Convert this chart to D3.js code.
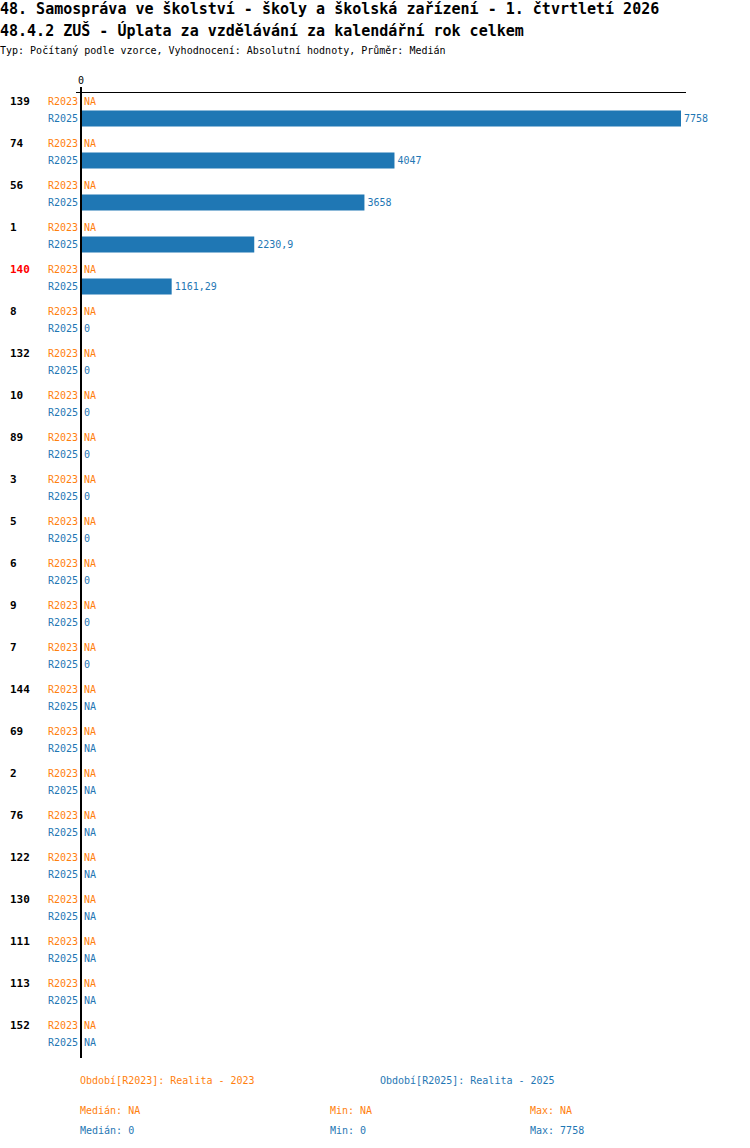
<!DOCTYPE html>
<html><head><meta charset="utf-8">
<script src="https://cdn.jsdelivr.net/npm/d3@7"></script>
<style>
body{margin:0;background:#fff;}
text{font-family:"DejaVu Sans Mono","Liberation Mono",monospace;}
</style></head>
<body>
<script>
const titleLines = ["48. Samospráva ve školství - školy a školská zařízení - 1. čtvrtletí 2026",
                    "48.4.2 ZUŠ - Úplata za vzdělávání za kalendářní rok celkem"];
const subtitle = "Typ: Počítaný podle vzorce, Vyhodnocení: Absolutní hodnoty, Průměr: Medián";
const categories = ["139","74","56","1","140","8","132","10","89","3","5","6","9","7","144","69","2","76","122","130","111","113","152"];
const highlighted = ["140"];
const series = ["R2023","R2025"];
const valuesR2023 = [null,null,null,null,null,null,null,null,null,null,null,null,null,null,null,null,null,null,null,null,null,null,null];
const valuesR2025 = [7758,4047,3658,2230.9,1161.29,0,0,0,0,0,0,0,0,0,null,null,null,null,null,null,null,null,null];
const xTicks = [0];
const legendLabels = ["Období[R2023]: Realita - 2023","Období[R2025]: Realita - 2025"];
const statsR2023 = ["Medián: NA","Min: NA","Max: NA"];
const statsR2025 = ["Medián: 0","Min: 0","Max: 7758"];
const colors = {R2023:"#ff7f0e", R2025:"#1f77b4"};

const W=750,H=1148;
const svg=d3.select("body").append("svg").attr("width",W).attr("height",H);

svg.selectAll("text.title").data(titleLines).join("text")
  .attr("x",0).attr("y",(d,i)=>14+i*22).attr("font-size",15).attr("font-weight","bold")
  .attr("fill","#000").text(d=>d);
svg.append("text").attr("x",0).attr("y",54).attr("font-size",10).attr("fill","#000").text(subtitle);

const x=d3.scaleLinear().domain([0,d3.max(valuesR2025)]).range([82,681]);
const y=d3.scaleBand().domain(categories).range([92,92+42*categories.length]);
const sub=d3.scaleBand().domain(series).range([1,35]);

// top axis line and tick label
svg.append("line").attr("x1",76).attr("x2",686).attr("y1",92.5).attr("y2",92.5).attr("stroke","#000").attr("stroke-width",1);
svg.selectAll("text.tick").data(xTicks).join("text").attr("x",d=>x(d)-1).attr("y",84)
  .attr("text-anchor","middle").attr("font-size",10).text(d=>d);

const data=[];
categories.forEach((c,i)=>{
  data.push({cat:c,s:"R2023",v:valuesR2023[i]});
  data.push({cat:c,s:"R2025",v:valuesR2025[i]});
});

// group labels
svg.selectAll("text.cat").data(categories).join("text")
  .attr("x",10).attr("y",d=>y(d)+sub("R2023")+sub.bandwidth()/2).attr("dy","0.35em")
  .attr("font-size",11).attr("font-weight","bold")
  .attr("fill",d=>highlighted.includes(d)?"#ff0000":"#000").text(d=>d);

// series labels
svg.selectAll("text.ser").data(data).join("text")
  .attr("x",78).attr("y",d=>y(d.cat)+sub(d.s)+sub.bandwidth()/2).attr("dy","0.35em")
  .attr("text-anchor","end").attr("font-size",10).attr("fill",d=>colors[d.s]).text(d=>d.s);

// bars
svg.selectAll("rect.bar").data(data.filter(d=>d.v!=null&&d.v>0)).join("rect")
  .attr("x",x(0)).attr("y",d=>y(d.cat)+sub(d.s)+0.5).attr("width",d=>x(d.v)-x(0))
  .attr("height",sub.bandwidth()-1).attr("fill",d=>colors[d.s]);

// value labels
const fmt=v=>v==null?"NA":String(v).replace(".",",");
svg.selectAll("text.val").data(data).join("text")
  .attr("x",d=>(d.v==null||d.v===0)?84:x(d.v)+3)
  .attr("y",d=>y(d.cat)+sub(d.s)+sub.bandwidth()/2).attr("dy","0.35em")
  .attr("font-size",10).attr("fill",d=>colors[d.s]).text(d=>fmt(d.v));

// vertical axis
svg.append("line").attr("x1",81).attr("x2",81).attr("y1",87).attr("y2",y.range()[1]).attr("stroke","#000").attr("stroke-width",2);

// legend
svg.selectAll("text.leg").data(legendLabels).join("text")
  .attr("x",(d,i)=>i===0?80:380).attr("y",1084).attr("font-size",10)
  .attr("fill",(d,i)=>colors[series[i]]).text(d=>d);
const statX=[80,330,530];
[statsR2023,statsR2025].forEach((arr,j)=>{
  svg.selectAll("text.st"+j).data(arr).join("text")
    .attr("x",(d,i)=>statX[i]).attr("y",1114+j*20).attr("font-size",10)
    .attr("fill",colors[series[j]]).text(d=>d);
});
</script>
</body></html>
